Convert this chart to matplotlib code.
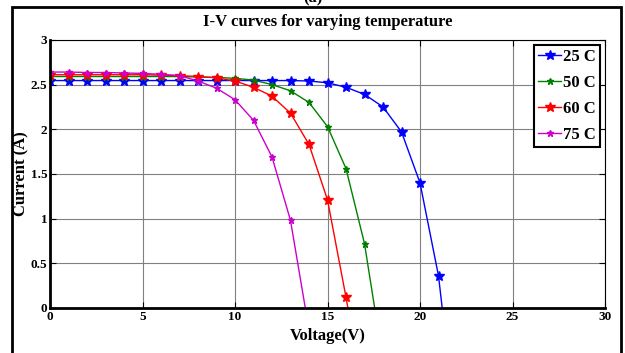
import numpy as np
import matplotlib
matplotlib.use("Agg")
import matplotlib.pyplot as plt
from matplotlib.patches import Rectangle

# --- Data ---
v25 = [0, 1, 2, 3, 4, 5, 6, 7, 8, 9, 10, 11, 12, 13, 14, 15, 16, 17, 18, 19, 20, 21, 21.2]
i25 = [2.545, 2.545, 2.545, 2.545, 2.545, 2.545, 2.545, 2.545, 2.545, 2.545, 2.545, 2.545,
       2.545, 2.545, 2.54, 2.52, 2.47, 2.39, 2.25, 1.97, 1.40, 0.36, 0.0]

v50 = [0, 1, 2, 3, 4, 5, 6, 7, 8, 9, 10, 11, 12, 13, 14, 15, 16, 17, 17.55]
i50 = [2.59, 2.59, 2.59, 2.59, 2.59, 2.59, 2.59, 2.59, 2.585, 2.58, 2.57, 2.55,
       2.50, 2.43, 2.30, 2.03, 1.56, 0.72, 0.0]

v60 = [0, 1, 2, 3, 4, 5, 6, 7, 8, 9, 10, 11, 12, 13, 14, 15, 16, 16.1]
i60 = [2.61, 2.61, 2.61, 2.61, 2.61, 2.61, 2.605, 2.60, 2.59, 2.575, 2.54, 2.47,
       2.37, 2.18, 1.83, 1.21, 0.12, 0.0]

v75 = [0, 1, 2, 3, 4, 5, 6, 7, 8, 9, 10, 11, 12, 13, 13.8]
i75 = [2.64, 2.64, 2.635, 2.635, 2.63, 2.625, 2.615, 2.60, 2.54, 2.46, 2.33, 2.10,
       1.69, 0.98, 0.0]

series = [
    ("25 C", v25, i25, "#0000ff", 7),
    ("50 C", v50, i50, "#008000", 5),
    ("60 C", v60, i60, "#ff0000", 7),
    ("75 C", v75, i75, "#cc00cc", 5),
]

plt.rcParams["font.family"] = ["Liberation Serif", "DejaVu Serif"]
plt.rcParams["font.weight"] = "bold"

fig = plt.figure(figsize=(6.25, 3.53), dpi=100)
ax = fig.add_axes([0.08, 0.1275, 0.888, 0.7595])

for label, v, i, col, ms in series:
    ax.plot(v, i, "-*", color=col, lw=1.0, ms=ms, label=label,
            markevery=list(range(len(v) - 1)))

ax.set_xlim(0, 30)
ax.set_ylim(0, 3)
ax.set_xticks([0, 5, 10, 15, 20, 25, 30])
ax.set_yticks([0, 0.5, 1, 1.5, 2, 2.5, 3])
ax.set_yticklabels(["0", "0.5", "1", "1.5", "2", "2.5", "3"])
ax.grid(True, color="#808080", lw=0.8)
ax.tick_params(direction="in", top=True, right=True, labelsize=9.5, length=4, pad=2)
for lbl in ax.get_xticklabels() + ax.get_yticklabels():
    lbl.set_fontweight("bold")

ax.spines["left"].set_linewidth(2)
ax.spines["bottom"].set_linewidth(2)
ax.spines["top"].set_linewidth(0.8)
ax.spines["right"].set_linewidth(0.8)

ax.set_title("I-V curves for varying temperature", fontsize=12, fontweight="bold", pad=10)
ax.set_xlabel("Voltage(V)", fontsize=12, fontweight="bold", labelpad=4)
ax.set_ylabel("Current (A)", fontsize=12, fontweight="bold")
ax.yaxis.set_label_coords(-0.037, 0.5)

leg = ax.legend(loc="upper right", fontsize=12, fancybox=False, framealpha=1,
                edgecolor="black", handlelength=1.4, borderpad=0.25,
                labelspacing=0.6, handletextpad=0.1, borderaxespad=0.3)
leg.get_frame().set_linewidth(1.5)
for t in leg.get_texts():
    t.set_fontweight("bold")

# outer frame around the figure panel
fig.patches.append(Rectangle((0.0192, -0.05), 0.9744, 1.03, transform=fig.transFigure,
                             fill=False, edgecolor="black", lw=2))
fig.text(0.5, 1.005, "(a)", ha="center", va="center", fontsize=12)

fig.savefig("out.png", dpi=100)
